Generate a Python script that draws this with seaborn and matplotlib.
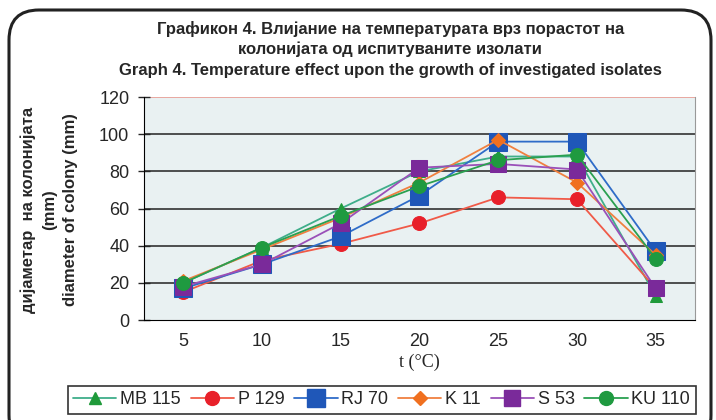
import matplotlib.pyplot as plt
import matplotlib.patches as mpatches
from matplotlib.transforms import IdentityTransform
from matplotlib.lines import Line2D
import pandas as pd
import seaborn as sns

# Data
temps = [5, 10, 15, 20, 25, 30, 35]
mb115 = [20, 39, 60, 80, 88, 88, 13]
p129 = [15, 32, 41, 52, 66, 65, 17]
rj70 = [17, 30, 45, 67, 96, 96, 37]
k11 = [21, 38, 55, 74, 97, 74, 35]
s53 = [18, 30, 52, 82, 84, 81, 17]
ku110 = [20, 39, 56, 72, 86, 89, 33]

names = ['MB 115', 'P 129', 'RJ 70', 'K 11', 'S 53', 'KU 110']
values = [mb115, p129, rj70, k11, s53, ku110]

df = pd.DataFrame({
    't': temps * len(names),
    'value': sum(values, []),
    'isolate': [n for n in names for _ in temps],
})

# line colour, marker, marker colour, marker size
styles = {
    'MB 115': ('#3fae8a', '^', '#1f9a3a', 8),
    'P 129': ('#f05a48', 'o', '#e8202a', 10),
    'RJ 70': ('#2f6cc8', 's', '#1f57b8', 13),
    'K 11': ('#f08040', 'D', '#f07020', 7),
    'S 53': ('#9a50b8', 's', '#7a2a9a', 11),
    'KU 110': ('#2aa050', 'o', '#1f9a40', 10),
}

sns.set_style('white')
plt.rcParams['font.family'] = ['Liberation Sans', 'DejaVu Sans']

fig = plt.figure(figsize=(7.16, 4.2), dpi=100)
fig.patch.set_facecolor('white')
ax = fig.add_axes([0.201, 0.238, 0.7697, 0.531])
ax.set_facecolor('#e9f1f2')

for n in names:
    lc, mk, mc, ms = styles[n]
    sns.lineplot(data=df[df['isolate'] == n], x='t', y='value', ax=ax,
                 color=lc, linewidth=1.3, marker=mk, markersize=ms,
                 markerfacecolor=mc, markeredgecolor=mc, label=n, legend=False)

ax.set_xlim(2.5, 37.5)
ax.set_ylim(0, 120)
ax.set_xticks(temps)
ax.set_xticks([2.5 + 5 * i for i in range(8)], minor=True)
ax.set_yticks(range(0, 121, 20))
ax.tick_params(axis='x', which='major', length=0, labelsize=13, pad=9)
ax.tick_params(axis='x', which='minor', length=7, width=1, direction='out', color='black')
ax.tick_params(axis='y', length=9, width=1, direction='inout', labelsize=13, left=True, pad=6)
for y in range(20, 101, 20):
    ax.axhline(y, color='#222222', linewidth=1.1, zorder=0.5)
ax.axhline(120, color='#e8a8a0', linewidth=1.4, zorder=0.5)
ax.spines['top'].set_visible(False)
ax.spines['right'].set_color('#999999')
ax.spines['left'].set_color('black')
ax.spines['bottom'].set_color('black')

ax.set_xlabel('t (°C)', family='Liberation Serif', fontsize=13, labelpad=3)
ax.set_ylabel('')
fig.text(0.039, 0.5, 'дијаметар  на колонијата', rotation=90, ha='center', va='center',
         fontsize=12, fontweight='bold')
fig.text(0.070, 0.5, '(mm)', rotation=90, ha='center', va='center',
         fontsize=12, fontweight='bold')
fig.text(0.098, 0.5, 'diameter of colony (mm)', rotation=90, ha='center', va='center',
         fontsize=12, fontweight='bold')

fig.text(0.545, 0.930, 'Графикон 4. Влијание на температурата врз порастот на',
         ha='center', va='center', fontsize=12, fontweight='bold')
fig.text(0.545, 0.882, 'колонијата од испитуваните изолати',
         ha='center', va='center', fontsize=12, fontweight='bold')
fig.text(0.545, 0.832, 'Graph 4. Temperature effect upon the growth of investigated isolates',
         ha='center', va='center', fontsize=12, fontweight='bold')

handles = []
for n in names:
    lc, mk, mc, ms = styles[n]
    handles.append(Line2D([], [], color=lc, linewidth=1.3, marker=mk, markersize=ms,
                          markerfacecolor=mc, markeredgecolor=mc))
leg = fig.legend(handles, names, loc='center', bbox_to_anchor=(0.533, 0.048), ncol=6,
                 fontsize=13, frameon=True, fancybox=False, handlelength=2.4,
                 handletextpad=0.2, columnspacing=0.55, borderpad=0.3)
leg.get_frame().set_edgecolor('black')
leg.get_frame().set_linewidth(1.2)

frame = mpatches.FancyBboxPatch((9, -25), 702, 435, boxstyle='round,pad=0,rounding_size=30',
                                transform=IdentityTransform(), fill=False,
                                edgecolor='#222222', linewidth=2.2)
fig.patches.append(frame)

fig.savefig('out.png', dpi=100)
